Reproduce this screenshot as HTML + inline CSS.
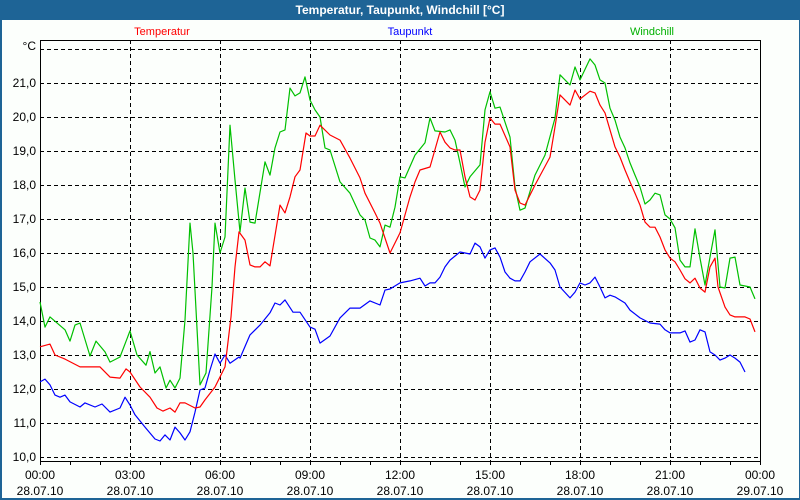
<!DOCTYPE html>
<html><head><meta charset="utf-8"><style>
html,body{margin:0;padding:0;background:#fcfffc;}
#wrap{position:relative;width:800px;height:500px;overflow:hidden;font-family:"Liberation Sans",sans-serif;}
svg text{font-family:"Liberation Sans",sans-serif;}
</style></head><body>
<div id="wrap">
<svg id="chart" width="800" height="500" xmlns="http://www.w3.org/2000/svg">
<rect x="0" y="0" width="800" height="500" fill="#1e6496"/>
<rect x="2" y="20" width="797" height="478" fill="#fcfffc"/>
<text x="400" y="14" text-anchor="middle" fill="#ffffff" font-size="12" font-weight="bold">Temperatur, Taupunkt, Windchill [°C]</text>
<text x="162" y="35" text-anchor="middle" fill="#ff0000" font-size="11">Temperatur</text>
<text x="410" y="35" text-anchor="middle" fill="#0000ff" font-size="11">Taupunkt</text>
<text x="652" y="35" text-anchor="middle" fill="#00b000" font-size="11">Windchill</text>
<g id="grid"></g>
<g id="axes"></g>
<g id="series"></g>
</svg>
</div>
<script>
const yTicks=[10,11,12,13,14,15,16,17,18,19,20,21];
const yTickLabels=["10,0","11,0","12,0","13,0","14,0","15,0","16,0","17,0","18,0","19,0","20,0","21,0"];
const xTicks=[0,180,360,540,720,900,1080,1260,1440];
const xTimeLabels=["00:00","03:00","06:00","09:00","12:00","15:00","18:00","21:00","00:00"];
const xDateLabels=["28.07.10","28.07.10","28.07.10","28.07.10","28.07.10","28.07.10","28.07.10","28.07.10","29.07.10"];

const windT=[0,10,20,50,60,70,80,100,112,130,140,160,180,194,212,220,230,240,252,260,270,280,290,300,306,320,332,344,350,360,370,380,390,400,410,420,430,450,460,470,480,490,500,510,520,530,540,550,560,570,580,600,620,640,650,660,670,680,690,700,710,720,730,750,770,780,790,810,820,830,840,850,860,880,890,900,910,920,940,950,960,970,990,1010,1030,1040,1060,1070,1080,1100,1110,1120,1130,1140,1150,1160,1170,1180,1190,1200,1210,1220,1230,1240,1250,1260,1270,1280,1290,1300,1310,1320,1330,1340,1350,1360,1370,1380,1390,1400,1410,1420,1430];
const windV=[14.56,13.82,14.12,13.74,13.41,13.88,13.94,12.97,13.41,13.09,12.79,12.94,13.71,13.0,12.7,13.1,12.47,12.65,12.03,12.26,12.03,12.32,14.03,16.88,16.0,12.12,12.47,15.0,16.88,16.0,16.47,19.76,18.15,16.62,17.91,16.91,16.88,18.68,18.29,19.09,19.56,19.62,20.85,20.62,20.71,21.18,20.5,20.21,20.0,19.09,19.03,18.09,17.76,17.12,16.97,16.44,16.38,16.18,16.82,16.76,17.35,18.24,18.21,18.88,19.24,19.97,19.59,19.56,19.62,19.32,18.65,17.94,18.24,18.59,20.21,20.74,20.26,20.29,19.41,17.94,17.26,17.32,18.29,18.88,19.97,21.24,20.94,21.47,21.09,21.71,21.53,21.09,21.0,20.26,19.91,19.41,19.09,18.65,18.29,17.94,17.44,17.56,17.76,17.71,17.12,17.0,16.74,15.79,15.59,15.59,16.71,15.85,15.06,15.88,16.68,15.0,14.97,15.85,15.88,15.06,15.03,15.0,14.65];

const tempT=[0,20,30,50,80,120,140,160,172,180,200,220,234,246,260,270,280,290,310,320,330,350,370,382,390,398,410,420,430,440,450,460,480,490,500,510,520,532,540,550,560,580,600,620,640,650,670,680,700,720,740,750,760,780,800,810,820,830,840,850,860,870,880,890,900,910,920,940,950,960,970,990,1020,1030,1040,1060,1070,1080,1100,1110,1120,1130,1140,1150,1160,1170,1180,1190,1200,1210,1220,1230,1240,1250,1260,1270,1280,1290,1300,1310,1320,1330,1340,1350,1356,1370,1380,1390,1400,1410,1420,1430];
const tempV=[13.24,13.32,13.0,12.88,12.65,12.65,12.35,12.32,12.59,12.5,12.06,11.76,11.44,11.35,11.44,11.32,11.59,11.59,11.44,11.47,11.68,12.06,12.65,14.12,15.59,16.62,16.38,15.65,15.59,15.59,15.74,15.62,17.41,17.18,17.65,18.24,18.44,19.53,19.44,19.44,19.76,19.47,19.32,18.79,18.21,17.76,17.18,16.88,16.0,16.59,17.65,18.09,18.44,18.53,19.56,19.26,19.09,19.03,19.03,18.24,17.65,17.56,17.85,19.26,19.97,19.79,19.79,19.12,17.85,17.47,17.41,18.0,18.82,19.71,20.65,20.35,20.79,20.53,20.76,20.71,20.35,20.12,19.62,19.12,18.82,18.44,18.09,17.76,17.41,16.91,16.76,16.76,16.47,16.09,15.85,15.74,15.5,15.24,15.12,15.26,14.97,14.85,15.59,15.85,15.0,14.41,14.18,14.12,14.12,14.12,14.06,13.68];

const dewT=[0,10,20,30,40,50,60,80,90,110,124,140,160,170,180,190,210,230,240,250,260,270,280,290,300,310,320,330,340,350,360,370,380,398,400,420,440,460,470,480,490,506,520,540,550,560,580,600,620,640,660,680,690,700,720,740,760,770,780,790,800,810,820,840,860,870,880,890,900,910,920,930,940,950,960,970,980,1000,1020,1030,1040,1060,1070,1080,1090,1100,1110,1120,1130,1140,1150,1170,1180,1200,1220,1240,1250,1260,1280,1290,1300,1310,1320,1330,1340,1350,1360,1370,1380,1390,1400,1410,1420,1430];
const dewV=[12.21,12.29,12.12,11.82,11.76,11.82,11.62,11.47,11.59,11.47,11.56,11.32,11.44,11.76,11.53,11.24,10.88,10.53,10.47,10.65,10.5,10.88,10.71,10.5,10.74,11.32,11.97,12.03,12.56,13.03,12.76,13.0,12.76,12.94,12.91,13.59,13.88,14.24,14.53,14.47,14.62,14.26,14.26,13.82,13.76,13.35,13.56,14.09,14.38,14.38,14.59,14.47,14.91,14.94,15.12,15.18,15.26,15.03,15.12,15.12,15.29,15.59,15.79,16.03,15.97,16.29,16.18,15.85,16.09,16.15,15.88,15.44,15.26,15.18,15.18,15.44,15.74,15.97,15.71,15.5,15.0,14.68,14.85,15.12,15.06,15.12,15.29,15.0,14.68,14.76,14.71,14.53,14.32,14.09,13.94,13.91,13.74,13.65,13.65,13.71,13.38,13.44,13.74,13.68,13.09,13.0,12.85,12.91,13.0,12.91,12.79,12.5];

const X0=40,X1=760,Y0=457,YTOP=40,YBOT=461;
function xs(m){return X0+m*(X1-X0)/1440;}
function ys(v){return Y0-(v-10)*34;}
const NS="http://www.w3.org/2000/svg";
function mk(tag,attrs,parent){const e=document.createElementNS(NS,tag);for(const k in attrs)e.setAttribute(k,attrs[k]);parent.appendChild(e);return e;}
const grid=document.getElementById('grid'),axes=document.getElementById('axes'),series=document.getElementById('series');
// horizontal grid incl. 22 (°C)
[...yTicks,22].forEach((v,i)=>{
  const l=mk('line',{x1:X0,x2:X1,y1:ys(v)+0.5,y2:ys(v)+0.5,stroke:'#000','stroke-width':1,'stroke-dasharray':'4,3'},grid);
  
  
});
yTicks.forEach((v,i)=>{
  const t=mk('text',{x:36,y:ys(v)+4,'text-anchor':'end','font-size':12,fill:'#000'},axes);
  t.textContent=yTickLabels[i];
  
  
});
const u=mk('text',{x:36,y:ys(22)+1,'text-anchor':'end','font-size':12,fill:'#000'},axes);
u.textContent='°C';


xTicks.forEach((m,i)=>{
  if(i>0&&i<xTicks.length-1){
    const l=mk('line',{x1:xs(m)+0.5,x2:xs(m)+0.5,y1:YTOP,y2:YBOT,stroke:'#000','stroke-width':1,'stroke-dasharray':'4,3'},grid);
    
    
  }
  const t1=mk('text',{x:xs(m),y:479,'text-anchor':'middle','font-size':12,fill:'#000'},axes);
  t1.textContent=xTimeLabels[i];
  
  
  const t2=mk('text',{x:xs(m),y:495,'text-anchor':'middle','font-size':12,fill:'#000'},axes);
  t2.textContent=xDateLabels[i];
  
  
});
for(let h=0;h<=24;h++){
  const l=mk('line',{x1:xs(h*60)+0.5,x2:xs(h*60)+0.5,y1:YBOT,y2:YBOT+4,stroke:'#000','stroke-width':1},axes);
  
  
}
const fr=mk('rect',{x:X0+0.5,y:YTOP+0.5,width:X1-X0,height:YBOT-YTOP,fill:'none',stroke:'#000','stroke-width':1},axes);


function drawLine(T,V,color,name){
  const pts=T.map((m,i)=>xs(m).toFixed(1)+','+ys(V[i]).toFixed(1)).join(' ');
  const p=mk('polyline',{points:pts,fill:'none',stroke:color,'stroke-width':1.2,'stroke-linejoin':'round'},series);
  
  
}
drawLine(dewT,dewV,'#0000ff','taupunkt-line');
drawLine(windT,windV,'#00c000','windchill-line');
drawLine(tempT,tempV,'#ff0000','temperatur-line');
</script>
</body></html>
